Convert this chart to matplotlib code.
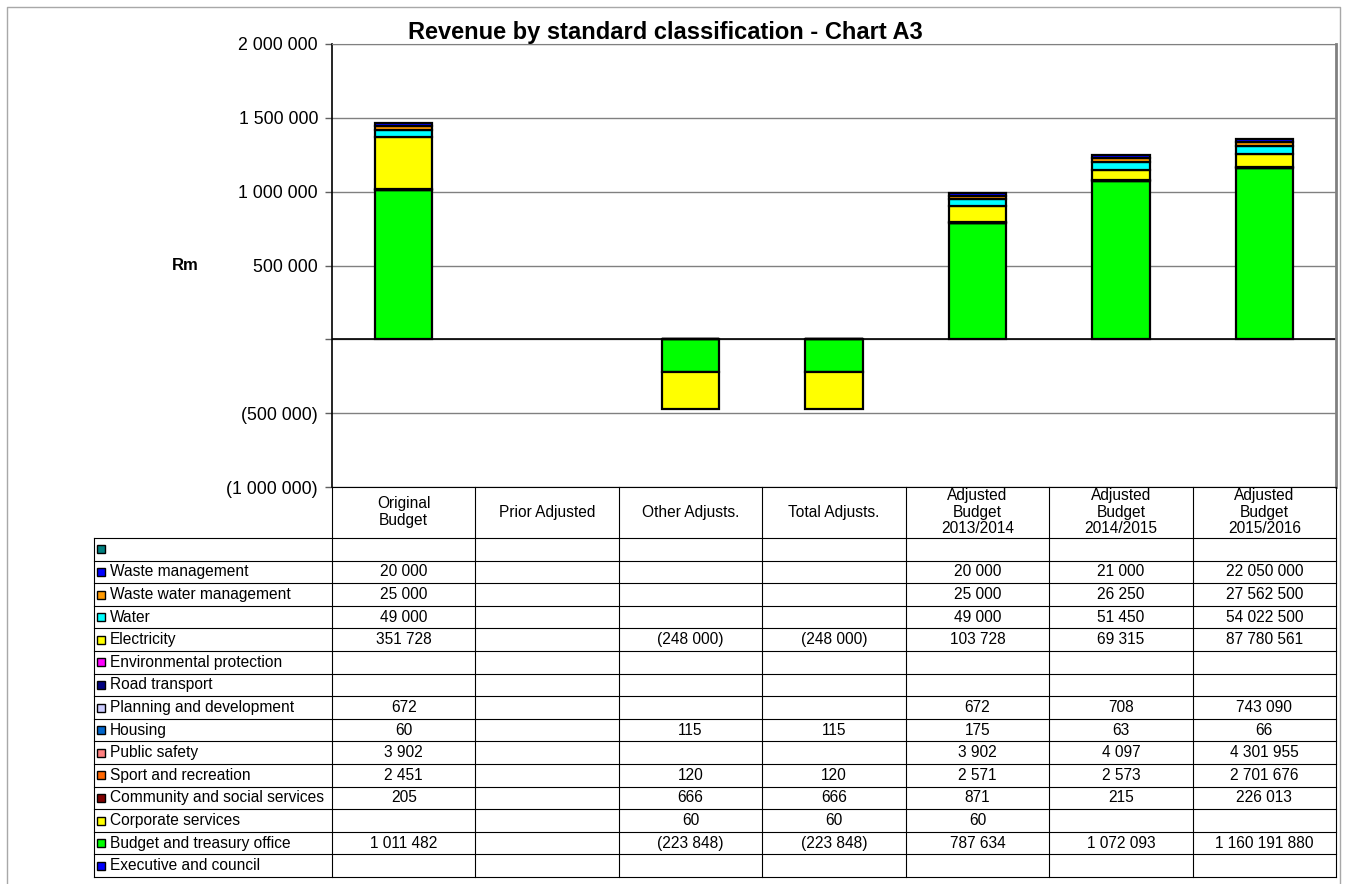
import matplotlib
matplotlib.use("Agg")
import numpy as np
import matplotlib.pyplot as plt
from matplotlib.patches import Rectangle
from matplotlib.ticker import FuncFormatter, MultipleLocator

plt.rcParams["font.family"] = ["Liberation Sans", "DejaVu Sans"]

columns = ["Original\nBudget", "Prior Adjusted", "Other Adjusts.", "Total Adjusts.",
           "Adjusted\nBudget\n2013/2014", "Adjusted\nBudget\n2014/2015",
           "Adjusted\nBudget\n2015/2016"]

# table rows, top to bottom (None = empty cell)
row_names = ["", "Waste management", "Waste water management", "Water", "Electricity",
             "Environmental protection", "Road transport", "Planning and development",
             "Housing", "Public safety", "Sport and recreation",
             "Community and social services", "Corporate services",
             "Budget and treasury office", "Executive and council"]
row_colors = ["#008080", "#0000FF", "#FF9900", "#00FFFF", "#FFFF00", "#FF00FF", "#000080",
              "#CCCCFF", "#0066CC", "#FF8080", "#FF6600", "#800000", "#FFFF00",
              "#00FF00", "#0000FF"]

unnamed = [None, None, None, None, None, None, None]
waste_management = [20000, None, None, None, 20000, 21000, 22050000]
waste_water = [25000, None, None, None, 25000, 26250, 27562500]
water = [49000, None, None, None, 49000, 51450, 54022500]
electricity = [351728, None, -248000, -248000, 103728, 69315, 87780561]
environmental = [None, None, None, None, None, None, None]
road_transport = [None, None, None, None, None, None, None]
planning = [672, None, None, None, 672, 708, 743090]
housing = [60, None, 115, 115, 175, 63, 66]
public_safety = [3902, None, None, None, 3902, 4097, 4301955]
sport = [2451, None, 120, 120, 2571, 2573, 2701676]
community = [205, None, 666, 666, 871, 215, 226013]
corporate = [None, None, 60, 60, 60, None, None]
budget_treasury = [1011482, None, -223848, -223848, 787634, 1072093, 1160191880]
executive = [None, None, None, None, None, None, None]

rows = [unnamed, waste_management, waste_water, water, electricity, environmental,
        road_transport, planning, housing, public_safety, sport, community, corporate,
        budget_treasury, executive]

# the 2015/2016 column is captured in rand, the others in thousands
col_scale = np.array([1, 1, 1, 1, 1, 1, 0.001])

W, H = 1346, 884
fig = plt.figure(figsize=(W / 100, H / 100), dpi=100)

# plot area edges in pixels
px_l, px_r, px_t, px_b = 332, 1336, 44, 487
ax = fig.add_axes([px_l / W, 1 - px_b / H, (px_r - px_l) / W, (px_b - px_t) / H])

x = np.arange(len(columns))
pos_base = np.zeros(len(columns))
neg_base = np.zeros(len(columns))
for vals, color in reversed(list(zip(rows, row_colors))):
    v = np.array([0 if a is None else a for a in vals], dtype=float) * col_scale
    bottoms = np.where(v >= 0, pos_base, neg_base)
    mask = v != 0
    if mask.any():
        ax.bar(x[mask], v[mask], 0.4, bottom=bottoms[mask], color=color,
               edgecolor="black", linewidth=1.6, zorder=3)
    pos_base += np.clip(v, 0, None)
    neg_base += np.clip(v, None, 0)


def money(v, pos=None):
    if v == 0:
        return ""
    s = f"{abs(v):,.0f}".replace(",", " ")
    return f"({s})" if v < 0 else s


ax.set_xlim(-0.5, len(columns) - 0.5)
ax.set_ylim(-1000000, 2000000)
ax.yaxis.set_major_locator(MultipleLocator(500000))
ax.yaxis.set_major_formatter(FuncFormatter(money))
ax.tick_params(axis="y", labelsize=12.8, length=5, width=1, pad=5, color="#606060")
ax.set_xticks([])
ax.grid(axis="y", color="#808080", linewidth=1, zorder=0)
ax.axhline(0, color="black", linewidth=1.2, zorder=2)
ax.spines["left"].set_color("black")
ax.spines["left"].set_linewidth(1.2)
ax.spines["bottom"].set_color("black")
ax.spines["top"].set_color("#808080")
ax.spines["right"].set_color("#808080")
ax.spines["right"].set_linewidth(2)

fig.text(665 / W, 1 - 33 / H, "Revenue by standard classification - Chart A3",
         ha="center", va="center", fontsize=17, fontweight="bold")
fig.text(185 / W, 1 - 265 / H, "Rm", ha="center", va="center", fontsize=12,
         fontweight="bold")

# data table drawn in pixel coordinates underneath the plot
tab = fig.add_axes([0, 0, 1, 1], facecolor="none")
tab.set_xlim(0, W)
tab.set_ylim(H, 0)
tab.axis("off")

col_w = (px_r - px_l) / len(columns)
col_edges = [px_l + i * col_w for i in range(len(columns) + 1)]
head_b = 538
row_h = (877 - head_b) / len(rows)
row_edges = [head_b + k * row_h for k in range(len(rows) + 1)]
tab_l = 94

for xe in col_edges:
    tab.plot([xe, xe], [px_b, row_edges[-1]], color="black", lw=0.8)
tab.plot([tab_l, tab_l], [head_b, row_edges[-1]], color="black", lw=0.8)
for ye in row_edges:
    tab.plot([tab_l, px_r], [ye, ye], color="black", lw=0.8)

for i, name in enumerate(columns):
    tab.text((col_edges[i] + col_edges[i + 1]) / 2, 512, name, ha="center", va="center",
             fontsize=11.2, linespacing=1.12)

for r, (name, vals, color) in enumerate(zip(row_names, rows, row_colors)):
    yc = row_edges[r] + row_h / 2
    tab.add_patch(Rectangle((97, yc - 4), 8, 8, facecolor=color, edgecolor="black", lw=1))
    tab.text(110, yc, name, ha="left", va="center", fontsize=11.2)
    for i, v in enumerate(vals):
        if v is None:
            continue
        tab.text((col_edges[i] + col_edges[i + 1]) / 2, yc, money(v), ha="center",
                 va="center", fontsize=11.2)

# chart frame
tab.plot([7, 7, 1340, 1340], [H, 7, 7, H], color="#a8a8a8", lw=1)

fig.savefig("out.png", dpi=100)
